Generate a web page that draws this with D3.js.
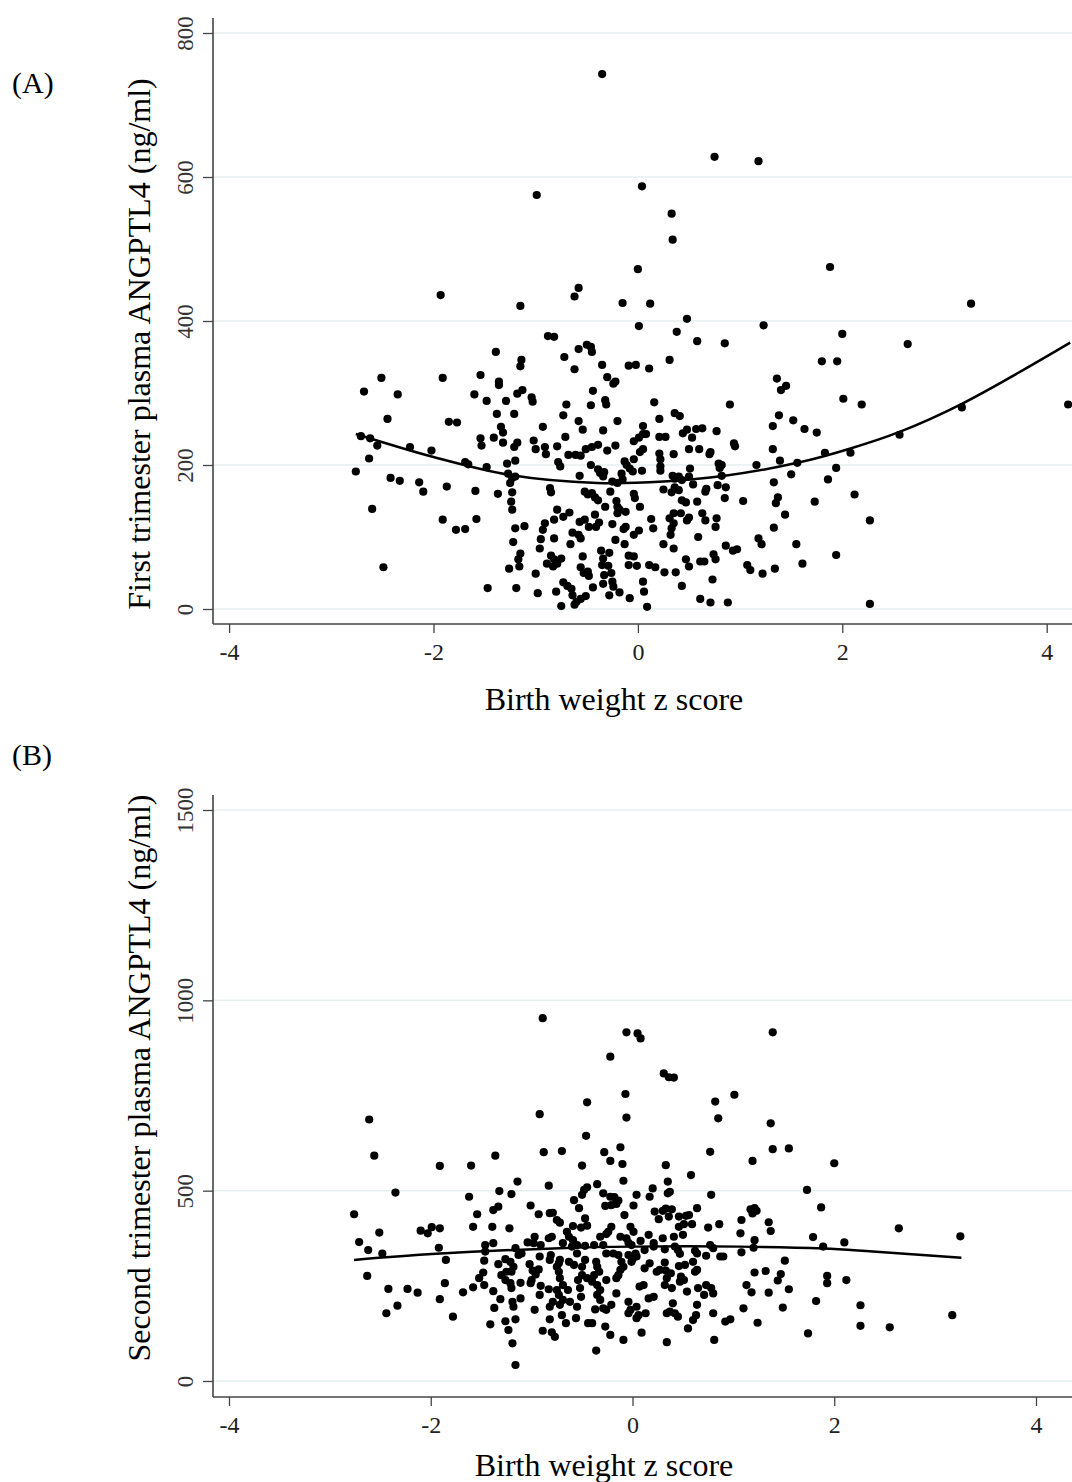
<!DOCTYPE html>
<html lang="en">
<head>
<meta charset="UTF-8">
<title>ANGPTL4 vs birth weight z score</title>
<script src="https://d3js.org/d3.v7.min.js"></script>
<style>
  body { margin: 0; background: #fff; }
  svg { display: block; font-family: "Liberation Serif", "Times New Roman", serif; }
</style>
</head>
<body>
<script>
// Panel A: first trimester plasma ANGPTL4 (ng/ml) vs birth weight z score
const firstTrimester = [
  [-0.35,743],[0.75,628],[1.18,622],[-0.99,575],[0.04,587],[0.33,549],[0.34,513],[0.00,472],[1.88,475],
  [-1.93,436],[-1.15,421],[-0.62,434],[-0.58,446],[-0.15,425],[0.12,424],[3.26,424],
  [1.23,394],[0.85,369],[2.00,382],[2.64,368],[1.80,344],[1.95,344],[1.36,320],[1.45,310],[1.40,304],
  [0.90,284],[2.01,292],[2.19,284],[4.21,284],[3.17,280],[1.38,269],[1.32,254],[1.52,262],[1.63,250],
  [1.75,245],[0.94,230],[0.95,226],[2.56,242],[1.32,222],[1.83,217],[2.08,217],[1.39,206],[1.56,203],
  [1.16,200],[0.82,200],[0.82,185],[1.94,196],[1.50,187],[1.86,180],[1.33,176],[0.86,169],[2.12,159],
  [0.85,154],[1.03,150],[1.37,155],[1.35,147],[1.73,149],[1.44,131],[2.27,123],[1.33,113],[1.18,98],
  [1.21,90],[1.55,90],[0.86,88],[0.93,81],[0.97,83],[1.94,75],[1.07,61],[1.10,54],[1.22,49],[1.34,56],
  [1.61,63],[0.88,9],[2.27,7],
  [-2.51,321],[-2.68,302],[-2.35,298],[-1.91,321],[-1.54,325],[-1.60,298],[-2.45,264],[-1.85,260],
  [-1.77,259],[-2.71,240],[-2.62,237],[-2.55,227],[-2.23,225],[-2.02,220],[-2.63,209],[-2.76,191],
  [-2.42,182],[-2.33,178],[-2.14,176],[-2.10,163],[-1.87,170],[-1.59,164],[-1.69,204],[-1.66,201],
  [-2.60,139],[-1.91,124],[-1.78,110],[-1.69,111],[-1.58,125],[-2.49,58],[-1.54,237],[-1.53,227],
  [0.01,393],[0.48,403],[0.38,385],[0.58,372],[-0.88,379],[-0.82,378],[-1.39,357],[-0.58,361],
  [-0.50,367],[-0.46,364],[-0.45,357],[-0.72,350],[-1.14,346],[-1.15,337],[-0.62,333],[-0.35,339],
  [-0.09,338],[-0.02,339],[0.11,334],[0.31,346],[-0.30,322],[-0.24,313],[-0.22,316],[-1.36,316],
  [-1.36,311],[-1.18,299],[-1.13,304],[-1.04,294],[-1.03,288],[-0.44,303],[-1.48,289],[-1.29,289],
  [-0.70,284],[-0.46,283],[-0.32,290],[-0.31,284],[0.16,287],[-1.38,271],[-1.21,271],[-0.73,269],
  [0.36,272],[0.41,268],[0.21,264],[-0.20,261],[-0.58,261],[-0.93,253],[-0.54,249],[-0.34,248],
  [0.05,254],[-1.34,253],[-1.32,245],[-1.41,238],[-1.32,231],[-1.21,225],[-1.18,231],[-1.02,234],
  [-1.00,222],[-0.91,225],[-0.90,215],[-0.79,226],[-0.71,239],[-0.68,214],[-0.61,214],[-0.56,213],
  [-0.51,222],[-0.45,225],[-0.39,228],[-0.30,220],[-0.22,227],[-0.04,233],[0.01,238],[0.05,243],
  [0.08,243],[0.05,222],[0.02,218],[0.21,239],[0.27,239],[0.44,244],[0.48,249],[0.53,238],[0.57,250],
  [0.63,251],[0.77,247],[0.50,222],[0.60,222],[0.70,215],[0.71,218],[0.21,216],[0.22,208],[0.22,198],
  [0.22,192],[0.35,215],[-1.28,202],[-1.20,206],[-1.48,197],[-0.78,204],[-0.76,198],[-0.46,200],
  [-0.13,205],[-0.11,200],[-0.04,208],[-0.08,195],[-0.05,191],[0.04,192],[-0.39,194],[-0.37,189],
  [-0.33,190],[-0.34,184],[-0.57,185],[-0.16,188],[-0.15,180],[-0.25,177],[-0.20,175],[0.34,185],
  [0.36,181],[0.51,195],[0.50,184],[0.40,184],[0.43,179],[0.54,173],[0.79,202],[0.80,196],[0.78,172],
  [-1.27,188],[-1.23,182],[-1.20,184],[-1.25,175],[-1.23,162],[-1.24,149],[-1.23,138],[-1.37,160],
  [-0.86,168],[-0.85,162],[-0.52,163],[-0.49,159],[-0.45,161],[-0.42,155],[-0.39,151],[-0.32,142],
  [-0.27,163],[-0.21,150],[-0.20,142],[-0.18,138],[-0.12,135],[-0.20,133],[-0.04,160],[-0.03,154],
  [0.02,142],[0.25,166],[0.33,162],[0.36,169],[0.40,165],[0.43,151],[0.47,148],[0.58,149],[0.66,163],
  [0.67,167],[0.42,133],[0.50,127],[0.48,123],[0.63,133],[0.66,123],[0.77,126],[0.76,114],[0.31,126],
  [0.35,133],[0.35,119],[0.33,112],[0.32,103],[0.13,125],[0.15,112],[-0.79,138],[-0.82,124],
  [-0.73,128],[-0.67,134],[-0.91,119],[-0.93,110],[-0.95,97],[-0.64,106],[-0.58,103],[-0.56,98],
  [-0.57,121],[-0.52,124],[-0.48,114],[-0.42,131],[-0.38,120],[-0.41,114],[-0.25,118],[-0.14,111],
  [-0.12,114],[-0.04,103],[0.01,109],[-0.22,96],[-0.13,90],[-1.20,112],[-1.11,115],[-1.22,93],
  [-1.15,77],[-1.17,69],[-1.16,59],[-1.26,56],[-0.82,98],[-0.66,90],[-0.96,84],[-0.85,74],[-0.82,69],
  [-0.79,63],[-0.75,70],[-0.89,63],[-0.83,59],[-0.54,73],[-0.36,81],[-0.34,70],[-0.35,61],[-0.28,78],
  [-0.29,60],[-0.56,58],[-0.53,50],[-0.48,46],[-0.49,52],[-1.00,49],[-0.09,74],[-0.04,73],[-0.09,61],
  [-0.01,60],[0.11,61],[0.17,58],[0.26,51],[0.37,51],[0.25,90],[0.35,84],[0.47,69],[0.50,59],
  [0.59,100],[0.61,66],[0.65,66],[0.74,76],[0.76,69],[0.73,41],[-0.33,47],[-0.34,35],[-0.25,38],
  [-0.24,31],[-0.26,50],[-0.44,30],[-0.73,37],[-0.69,32],[-0.65,28],[-0.64,19],[-0.60,10],[-0.56,14],
  [-0.51,18],[-0.62,6],[-0.75,4],[-0.80,24],[-0.98,22],[-1.19,29],[-1.47,29],[-0.28,19],[-0.18,23],
  [-0.08,15],[0.05,38],[0.06,24],[0.09,3],[0.43,32],[0.61,14],[0.71,9]
];

// fitted curve of panel A
const firstFitX = [-2.76, -2, -1.25, -0.4, 0.25, 0.85, 1.56, 2.08, 2.56, 3.17, 4.23];
const firstFitY = [243, 211, 186, 175, 177, 185, 203, 223, 246, 285, 370];

// Panel B: second trimester plasma ANGPTL4 (ng/ml) vs birth weight z score
const secondTrimester = [
  [-0.89,953],[-0.92,701],[-0.45,732],[-2.61,687],[-2.56,592],[-0.46,644],[-0.88,601],[-0.70,604],
  [-1.91,565],[-1.60,566],[-1.36,592],[-0.50,566],[-0.83,513],[-1.14,524],[-2.35,495],[-0.06,916],
  [0.05,913],[0.08,900],[1.39,916],[-0.22,852],[0.31,808],[0.36,798],[0.41,797],[-0.07,754],
  [1.01,752],[0.82,734],[0.85,690],[-0.06,692],[1.37,677],[1.39,609],[1.55,611],[-0.12,614],
  [0.77,602],[-0.28,601],[-0.22,578],[-0.10,570],[0.33,567],[1.19,578],[2.00,572],[0.58,541],
  [-0.09,526],[0.35,524],[-0.35,517],[1.73,502],[1.87,456],[2.64,401],[3.25,380],[2.10,364],
  [1.79,378],[1.89,353],[1.51,316],[1.93,276],[1.93,257],[2.12,265],[2.26,199],[2.26,145],[2.55,141],
  [3.17,173],[1.82,210],[1.74,125],
  [1.17,451],[1.21,454],[1.19,440],[1.23,447],[1.08,423],[1.35,417],[1.37,394],[1.21,370],[1.20,350],
  [1.08,338],[1.21,285],[1.32,289],[1.47,281],[1.44,264],[1.13,252],[1.18,233],[1.35,232],[1.55,241],
  [1.10,191],[1.49,193],[1.24,153],
  [-0.45,509],[-0.48,502],[-0.50,489],[-0.58,475],[-0.53,454],[-0.29,493],[-0.22,484],[-0.18,483],
  [-0.14,474],[-0.16,465],[-0.21,462],[-0.27,460],[-0.08,436],[0.04,489],[0.01,461],[0.17,484],
  [0.20,506],[0.35,493],[0.37,497],[0.22,445],[0.26,425],[0.30,447],[0.33,453],[0.36,432],[0.39,451],
  [0.46,432],[0.53,434],[0.56,436],[0.59,412],[0.51,412],[0.46,405],[0.64,454],[0.75,403],[0.86,412],
  [0.78,489],[-0.72,416],[-0.59,407],[-0.51,403],[-0.45,408],[-0.47,427],[-0.32,379],[-0.26,386],
  [-0.21,405],[-0.24,392],[-0.12,379],[-0.06,375],[-0.02,405],[0.01,392],[-0.01,357],[-0.04,363],
  [0.08,368],[0.16,384],[0.21,362],[0.30,375],[0.41,379],[0.50,384],[-0.65,392],[-0.63,379],
  [-0.59,370],[-0.69,362],[-0.60,353],[-0.55,357],[-0.47,355],[-0.38,357],[-0.29,357],[-0.26,335],
  [-0.19,335],[-0.14,331],[-0.04,331],[0.00,320],[0.03,335],[0.12,344],[0.21,353],[0.32,346],
  [0.42,353],[0.45,344],[0.47,334],[0.62,342],[0.64,335],[0.73,329],[0.77,357],[0.80,349],[0.87,327],
  [0.90,327],[-0.72,318],[-0.63,313],[-0.58,305],[-0.50,300],[-0.47,318],[-0.55,335],[-0.36,313],
  [-0.35,300],[-0.38,278],[-0.33,287],[-0.11,313],[-0.12,292],[-0.09,300],[-0.01,313],[0.04,327],
  [0.12,296],[0.17,309],[0.24,287],[0.27,292],[0.32,311],[0.33,290],[0.38,283],[0.46,302],[0.52,305],
  [0.48,274],[0.51,265],[0.60,313],[0.62,287],[0.64,292],[-0.72,270],[-0.69,252],[-0.64,239],
  [-0.54,265],[-0.50,278],[-0.45,270],[-0.40,261],[-0.52,244],[-0.51,221],[-0.35,252],[-0.32,239],
  [-0.35,226],[-0.32,213],[-0.26,265],[-0.16,270],[-0.14,278],[-0.16,230],[-0.21,200],[-0.26,187],
  [-0.29,191],[-0.37,188],[-0.04,208],[-0.02,187],[0.04,195],[-0.04,178],[0.04,165],[0.06,173],
  [0.07,248],[0.11,252],[0.16,217],[0.21,221],[0.13,178],[0.34,178],[0.37,182],[0.42,178],[0.45,169],
  [0.40,204],[0.32,252],[0.34,270],[0.39,244],[0.47,261],[0.54,235],[0.65,244],[0.73,252],[0.78,244],
  [0.80,230],[0.71,226],[0.64,200],[0.63,173],[0.60,160],[0.55,138],[0.80,178],[0.92,156],[0.97,162],
  [0.81,108],[0.34,102],[-0.09,108],[-0.36,80],[0.09,127],[-0.22,121],[-0.27,143],[-0.40,152],
  [-0.44,152],[-0.56,165],[-0.66,152],[-0.70,173],[-0.55,195],[-0.62,208],[-0.69,213],[1.07,388],
  [-2.76,438],[-1.62,484],[-1.32,499],[-1.20,491],[-1.54,438],[-1.38,449],[-1.33,458],[-1.01,461],
  [-0.93,438],[-0.82,441],[-0.79,442],[-2.71,365],[-2.62,344],[-2.51,390],[-2.48,335],[-2.10,395],
  [-2.03,388],[-1.99,404],[-1.91,401],[-1.92,350],[-1.85,318],[-1.58,405],[-1.39,405],[-1.22,401],
  [-1.46,357],[-1.38,362],[-2.63,276],[-2.42,242],[-2.23,242],[-2.13,232],[-2.33,198],[-2.44,178],
  [-1.86,257],[-1.91,215],[-1.78,169],[-1.68,233],[-1.58,246],[-1.47,316],[-1.52,270],[-1.48,285],
  [-1.47,252],[-1.38,236],[-1.31,215],[-1.37,192],[-1.41,149],[-1.33,307],[-1.26,320],[-1.21,313],
  [-1.18,300],[-1.20,287],[-1.25,287],[-1.30,278],[-1.26,265],[-1.21,257],[-1.20,244],[-1.11,258],
  [-1.11,217],[-1.01,257],[-1.00,265],[-0.91,250],[-1.19,208],[-1.18,195],[-1.26,157],[-1.23,134],
  [-1.19,99],[-1.16,42],[-1.16,162],[-0.97,187],[-0.89,132],[-0.80,128],[-0.77,116],[-0.82,162],
  [-0.82,195],[-0.79,208],[-0.72,200],[-0.92,226],[-0.83,241],[-0.75,239],[-0.73,226],[-0.81,331],
  [-0.73,309],[-0.73,287],[-0.75,300],[-1.04,364],[-0.97,379],[-0.98,362],[-0.91,357],[-0.92,327],
  [-0.83,375],[-0.80,379],[-0.82,318],[-0.75,423],[-1.46,340],[-1.16,349],[-1.13,331],[-1.10,335],
  [-1.02,307],[-0.99,290],[-0.93,293],[-0.96,280]
];

const secondFitX = [-2.76, -1.95, -0.72, 0, 1.06, 1.89, 2.38, 3.26];
const secondFitY = [318, 334, 349, 353, 353, 348, 340, 324];

const xTicks = [-4, -2, 0, 2, 4];
const firstYTicks = [0, 200, 400, 600, 800];
const secondYTicks = [0, 500, 1000, 1500];

const width = 1072, height = 1482;
const svg = d3.select("body").append("svg")
    .attr("width", width)
    .attr("height", height);

// draws one scatter panel with its fitted curve
function drawPanel(opt) {
    const x = d3.scaleLinear().domain([-4, 4]).range(opt.xRange);
    const y = d3.scaleLinear().domain([0, opt.yMax]).range(opt.yRange);
    const g = svg.append("g");
    const left = 213, right = width;

    // light gridlines
    g.selectAll(".grid")
        .data(opt.yTicks)
        .enter().append("line")
        .attr("x1", left).attr("x2", right)
        .attr("y1", d => y(d)).attr("y2", d => y(d))
        .attr("stroke", "#e6eff0")
        .attr("stroke-width", 1.5);

    // y axis
    const yAxis = g.append("g")
        .attr("transform", `translate(${left},0)`)
        .call(d3.axisLeft(y).tickValues(opt.yTicks).tickSize(10).tickFormat(d => String(d)));
    yAxis.select(".domain").remove();
    yAxis.selectAll(".tick line").attr("stroke", "#444").attr("stroke-width", 1.3);
    yAxis.selectAll(".tick text")
        .attr("x", 0).attr("dy", 0)
        .attr("text-anchor", "middle")
        .attr("transform", "translate(-20,0) rotate(-90)")
        .attr("fill", "#333")
        .style("font-size", "23px")
        .style("font-family", "'Liberation Serif', 'Times New Roman', serif");
    g.append("line")
        .attr("x1", left).attr("x2", left)
        .attr("y1", opt.axisTop).attr("y2", opt.axisBottom)
        .attr("stroke", "#444").attr("stroke-width", 1.6);

    // x axis
    const xAxis = g.append("g")
        .attr("transform", `translate(0,${opt.axisBottom})`)
        .call(d3.axisBottom(x).tickValues(xTicks).tickSize(9).tickFormat(d => String(d)));
    xAxis.select(".domain").remove();
    xAxis.selectAll(".tick line").attr("stroke", "#444").attr("stroke-width", 1.3);
    xAxis.selectAll(".tick text")
        .attr("y", 36).attr("dy", 0)
        .attr("fill", "#222")
        .style("font-size", "24px")
        .style("font-family", "'Liberation Serif', 'Times New Roman', serif");
    g.append("line")
        .attr("x1", left).attr("x2", right)
        .attr("y1", opt.axisBottom).attr("y2", opt.axisBottom)
        .attr("stroke", "#444").attr("stroke-width", 1.6);

    // points
    g.selectAll(".dot")
        .data(opt.points)
        .enter().append("circle")
        .attr("cx", d => x(d[0]))
        .attr("cy", d => y(d[1]))
        .attr("r", 4.1)
        .attr("fill", "#000");

    // fitted curve
    const fit = opt.fitX.map((v, i) => [v, opt.fitY[i]]);
    g.append("path")
        .datum(fit)
        .attr("fill", "none")
        .attr("stroke", "#000")
        .attr("stroke-width", 2.5)
        .attr("d", d3.line().x(d => x(d[0])).y(d => y(d[1])).curve(d3.curveCatmullRom));

    // titles
    g.append("text")
        .attr("x", 12).attr("y", opt.tagY)
        .style("font-size", "30px")
        .text(opt.tag);
    g.append("text")
        .attr("transform", `translate(150,${opt.yTitleMid}) rotate(-90)`)
        .attr("text-anchor", "middle")
        .style("font-size", "32px")
        .text(opt.yTitle);
    g.append("text")
        .attr("x", opt.xTitleMid).attr("y", opt.xTitleY)
        .attr("text-anchor", "middle")
        .style("font-size", "32px")
        .text("Birth weight z score");
}

drawPanel({
    points: firstTrimester, fitX: firstFitX, fitY: firstFitY,
    xRange: [229.1, 1046.7], yMax: 800, yRange: [609, 33], yTicks: firstYTicks,
    axisTop: 18, axisBottom: 624,
    tag: "(A)", tagY: 93,
    yTitle: "First trimester plasma ANGPTL4 (ng/ml)", yTitleMid: 344,
    xTitleMid: 614, xTitleY: 710
});

drawPanel({
    points: secondTrimester, fitX: secondFitX, fitY: secondFitY,
    xRange: [229, 1036], yMax: 1500, yRange: [1381, 810], yTicks: secondYTicks,
    axisTop: 795, axisBottom: 1397,
    tag: "(B)", tagY: 765,
    yTitle: "Second trimester plasma ANGPTL4 (ng/ml)", yTitleMid: 1078,
    xTitleMid: 604, xTitleY: 1476
});
</script>
</body>
</html>
